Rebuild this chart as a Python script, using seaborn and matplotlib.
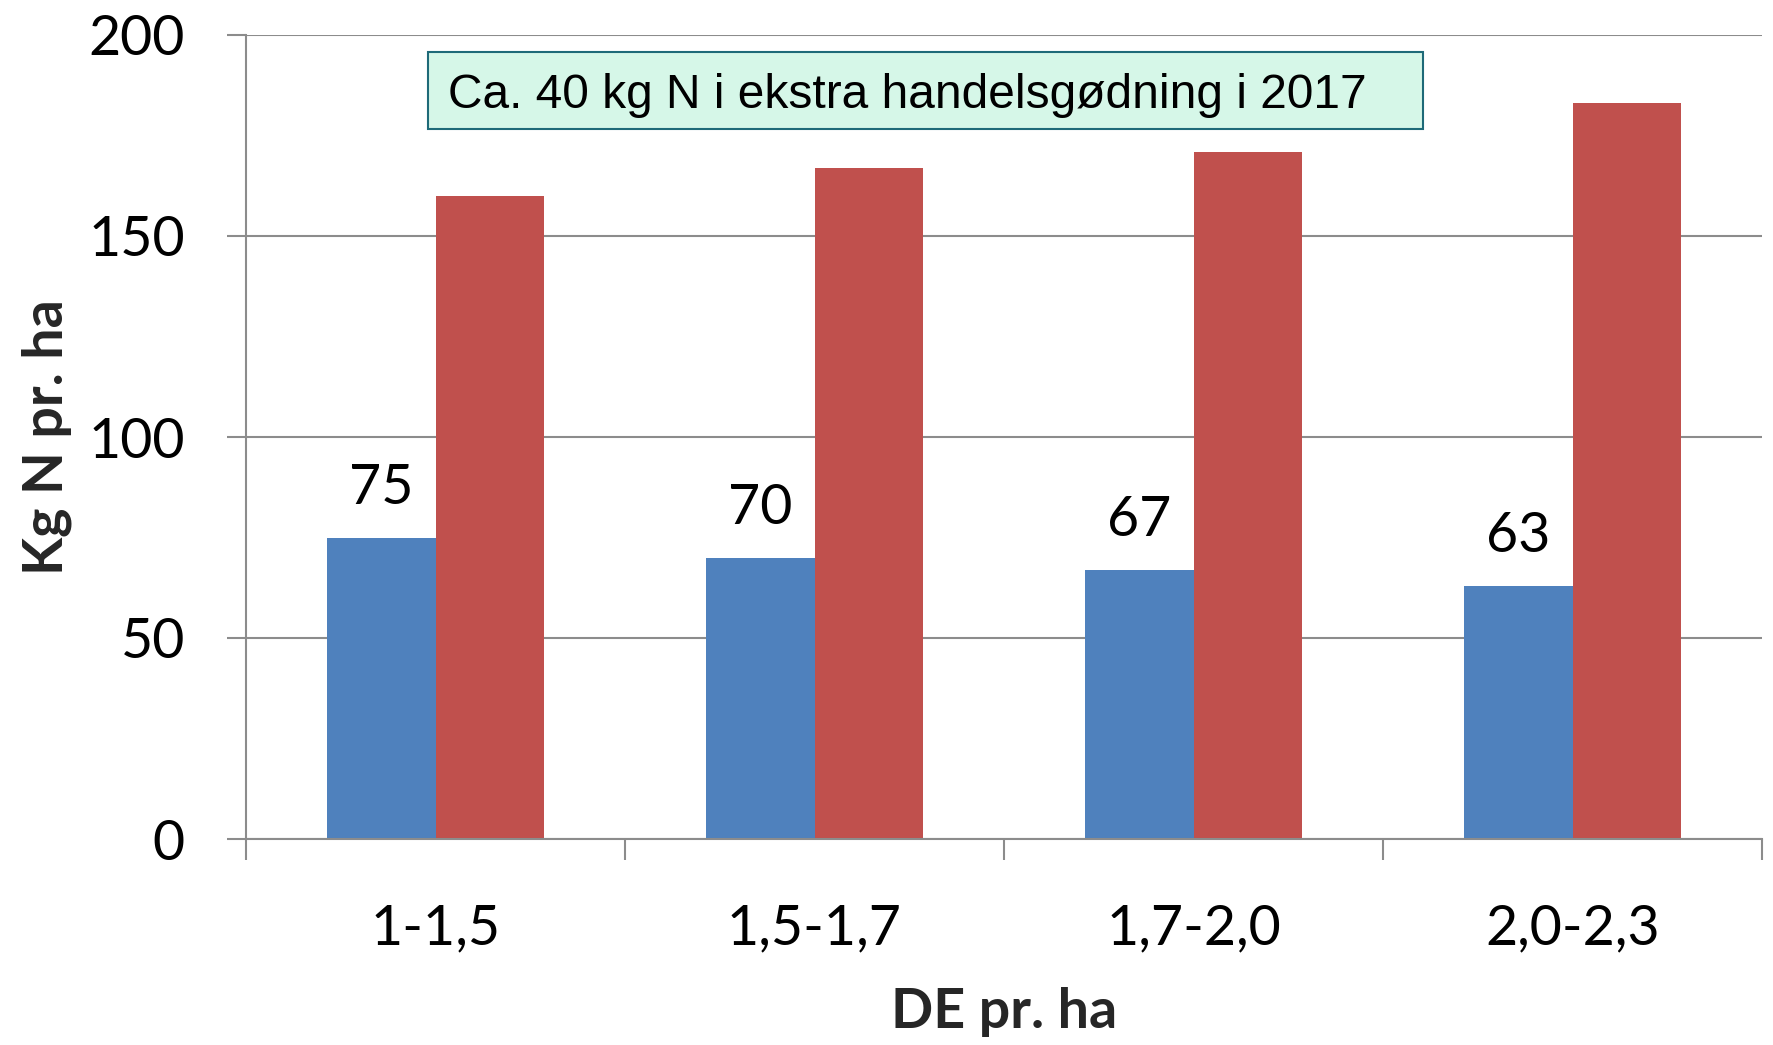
import matplotlib
matplotlib.use("Agg")
import matplotlib.pyplot as plt
import seaborn as sns
import pandas as pd
from matplotlib.patches import Rectangle

# ---- data ----
categories = ["1-1,5", "1,5-1,7", "1,7-2,0", "2,0-2,3"]
series_names = ["Serie 1", "Serie 2"]
blue_values = [75, 70, 67, 63]
red_values = [160, 167, 171, 183]
y_ticks = [0, 50, 100, 150, 200]
x_title = "DE pr. ha"
y_title = "Kg N pr. ha"
note_text = "Ca. 40 kg N i ekstra handelsgødning i 2017"

df = pd.DataFrame({
    "cat": categories * 2,
    "serie": [series_names[0]] * 4 + [series_names[1]] * 4,
    "val": blue_values + red_values,
})

sns.set_theme(style="white")
plt.rcParams["font.family"] = ["Lato", "DejaVu Sans"]

W, H = 1773, 1045
fig = plt.figure(figsize=(W / 100, H / 100), dpi=100)
L, R, T, B = 246, 1762, 35, 839
ax = fig.add_axes([L / W, 1 - B / H, (R - L) / W, (B - T) / H])

grey = "#8c8c8c"
sns.barplot(data=df, x="cat", y="val", hue="serie", order=categories,
            hue_order=series_names, palette=["#4F81BD", "#C0504D"],
            width=0.57, saturation=1, legend=False, ax=ax, linewidth=0)

ax.set_xlim(-0.5, len(categories) - 0.5)
ax.set_ylim(0, 200)
ax.set_yticks(y_ticks)
ax.set_yticklabels([str(v) for v in y_ticks])
ax.yaxis.grid(True, color=grey, linewidth=1.5)
ax.set_axisbelow(True)
ax.xaxis.grid(False)

for s in ["top", "right"]:
    ax.spines[s].set_visible(False)
for s in ["left", "bottom"]:
    ax.spines[s].set_color(grey)
    ax.spines[s].set_linewidth(1.5)

ax.tick_params(axis="y", which="major", length=14, width=1.5, color=grey,
               direction="out", pad=30, labelsize=40, labelcolor="black", left=True)
ax.tick_params(axis="x", which="major", length=0, pad=46, labelsize=40,
               labelcolor="black")
ax.set_xticks([i - 0.5 for i in range(len(categories) + 1)], minor=True)
ax.tick_params(axis="x", which="minor", length=15, width=1.5, color=grey,
               direction="out", bottom=True)

ax.set_xlabel(x_title, fontsize=40, fontweight="bold", labelpad=24)
ax.set_ylabel(y_title, fontsize=40, fontweight="bold", labelpad=12)

# value labels on blue bars
ax.bar_label(ax.containers[0], labels=[str(v) for v in blue_values],
             padding=17, fontsize=40, color="black")

# annotation box
bx0, bx1, by0, by1 = 428, 1423, 52, 129
fig.patches.append(Rectangle((bx0 / W, 1 - by1 / H), (bx1 - bx0) / W,
                             (by1 - by0) / H, transform=fig.transFigure,
                             facecolor="#D6F7E8", edgecolor="#1E6A78",
                             linewidth=1.5, zorder=5))
fig.text(448 / W, 1 - ((by0 + by1) / 2) / H, note_text,
         fontsize=34.5, family=["Liberation Sans", "DejaVu Sans"],
         ha="left", va="center_baseline", color="black", zorder=6)

fig.savefig("out.png", dpi=100)
